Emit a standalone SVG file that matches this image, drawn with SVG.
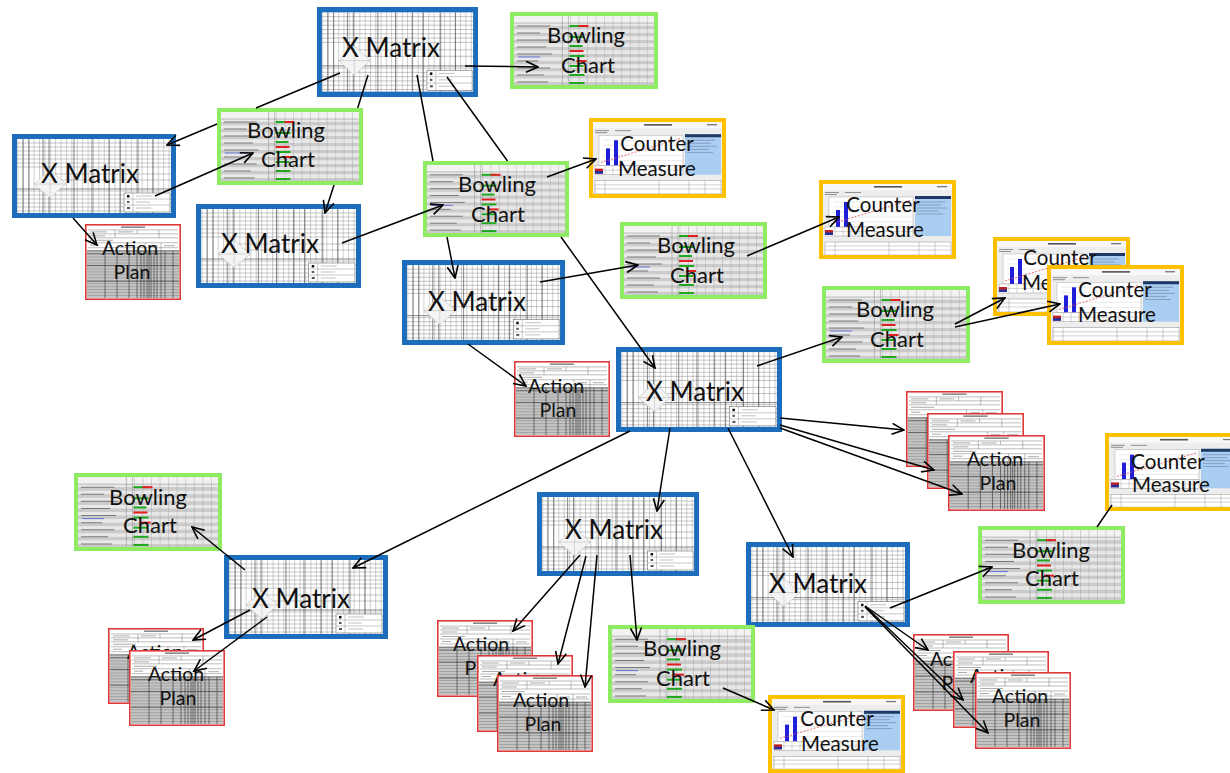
<svg xmlns="http://www.w3.org/2000/svg" width="1230" height="773" viewBox="0 0 1230 773">
<defs>
<style>
.t{font-family:Lato,"Liberation Sans",sans-serif;fill:#111;text-anchor:middle}
.xl{font-size:26px}
.sl{font-size:22px}
.cl{font-size:20.5px}
.al{font-size:19.5px}
.c{fill:none;stroke:#000;stroke-width:1.5}
.ca{marker-end:url(#arr)}
</style>
<marker id="arr" viewBox="0 0 14 14" refX="13" refY="7" markerWidth="14" markerHeight="14" markerUnits="userSpaceOnUse" orient="auto">
<path d="M1 1.5L13 7L1 12.5" fill="none" stroke="#000" stroke-width="1.6"/>
</marker>
<pattern id="pXv" width="5.4" height="10" patternUnits="userSpaceOnUse"><path d="M0.5 0V10" stroke="#9a9a9a" stroke-width="0.5"/></pattern>
<pattern id="pBrow" width="10" height="7" patternUnits="userSpaceOnUse"><rect width="10" height="3.5" fill="#CBCBCB"/><rect y="3.5" width="10" height="3.5" fill="#E8E8E8"/></pattern>
<pattern id="pBcol" width="8.5" height="10" patternUnits="userSpaceOnUse"><path d="M0.5 0V10" stroke="#a0a0a0" stroke-width="0.4"/></pattern>
<pattern id="pAP" width="10" height="3" patternUnits="userSpaceOnUse"><rect width="10" height="3" fill="#C4C4C4"/><path d="M0 0.3H10" stroke="#6e6e6e" stroke-width="0.5"/></pattern>

<symbol id="xmB" viewBox="0 0 164 84" preserveAspectRatio="none">
<rect width="164" height="84" fill="#fff"/>
<rect x="5" y="5" width="154" height="74" fill="url(#pXv)"/>
<path d="M5 9H159M5 13H159M5 17H159M5 21H159M5 25H159M5 29H159M5 33H159M38 40H159M38 46H159M5 57H159M5 61H159M5 65H159M5 69H159M5 73H159M5 77H159" fill="none" stroke="#8c8c8c" stroke-width="0.5"/>
<path d="M11 5V79M17 5V79M31 5V79M37 5V79M62 5V79M80 5V79M97 5V79M108 5V79M126 5V79M141 5V79M5 55H159" fill="none" stroke="#3c3c3c" stroke-width="0.6"/>
<path d="M38 36L54 50L38 64L22 50ZM22 50H54M38 36V64" fill="#f4f4f4" stroke="#b4b4b4" stroke-width="0.5"/>
<rect x="112" y="59" width="46" height="19" fill="#fff" stroke="#555" stroke-width="0.5"/>
<path d="M121 59V78M112 65H158M112 71H158" stroke="#777" stroke-width="0.4"/>
<rect x="115" y="61" width="2.5" height="2.5" fill="#111"/>
<rect x="115" y="67" width="2.5" height="2" fill="#555"/>
<rect x="115" y="73" width="3" height="2" fill="#555"/>
<path d="M124 62H140M124 68H138M124 74H139" stroke="#999" stroke-width="0.6"/>
<rect x="2.5" y="2.5" width="159" height="79" fill="none" stroke="#1C6DBB" stroke-width="5"/>
</symbol>

<symbol id="bcB" viewBox="0 0 147 77" preserveAspectRatio="none">
<rect width="147" height="77" fill="#E6E6E6"/>
<rect x="4" y="11" width="139" height="62" fill="url(#pBrow)"/>
<rect x="4" y="4" width="139" height="7" fill="#F2F2F2"/>
<rect x="52" y="4" width="91" height="69" fill="url(#pBcol)"/>
<path d="M4 11H143M52 4V73M58 4V73" stroke="#888" stroke-width="0.5"/>
<path d="M7 14H40M7 21H30M7 28H44M7 35H36M7 42H42M7 49H28M7 56H40M7 63H34M7 70H38" stroke="#7a7a7a" stroke-width="1"/>
<path d="M8 45H30" stroke="#4a5ad8" stroke-width="0.8"/>
<g fill="#1FA81F"><rect x="59" y="13" width="15" height="2"/><rect x="59" y="24" width="15" height="2"/><rect x="59" y="33" width="13" height="2"/><rect x="59" y="43" width="15" height="2"/><rect x="59" y="53" width="14" height="2"/><rect x="59" y="62" width="15" height="2"/><rect x="59" y="70" width="15" height="2"/></g>
<g fill="#E02020"><rect x="68" y="13" width="10" height="2"/><rect x="59" y="38" width="14" height="2"/><rect x="66" y="48" width="10" height="2"/></g>
<rect x="2" y="2" width="143" height="73" fill="none" stroke="#8FEB62" stroke-width="4"/>
</symbol>

<symbol id="cmB" viewBox="0 0 137 79" preserveAspectRatio="none">
<rect width="137" height="79" fill="#EDEDED"/>
<rect x="4" y="4" width="129" height="6" fill="#F8F8F8"/>
<rect x="55" y="6" width="28" height="1.6" fill="#555"/>
<rect x="118" y="6" width="10" height="1.3" fill="#777"/>
<path d="M6 12.5H20M26 12.5H42M6 14.5H18" stroke="#777" stroke-width="0.8"/>
<rect x="10" y="17" width="84" height="30" fill="#fff" stroke="#999" stroke-width="0.4"/>
<path d="M14 22H94M14 27H94M14 32H94M14 37H94M14 42H94" stroke="#ccc" stroke-width="0.4"/>
<rect x="17" y="30" width="4" height="17" fill="#1E1ED8"/>
<rect x="25" y="22" width="4" height="25" fill="#1E1ED8"/>
<path d="M12 44L92 20" stroke="#E05050" stroke-dasharray="2 1.5" stroke-width="0.8"/>
<rect x="96" y="16" width="36" height="40" fill="#A9CEF2"/>
<rect x="96" y="16" width="36" height="3" fill="#203864"/>
<path d="M98 22H126M98 25H122M98 28H128M98 31H120M98 34H124" stroke="#6a7fa0" stroke-width="0.6"/>
<rect x="6" y="47" width="88" height="9" fill="#fff" stroke="#888" stroke-width="0.4"/>
<path d="M16 47V56M24 47V56M32 47V56M40 47V56M48 47V56M56 47V56M64 47V56M72 47V56M80 47V56M88 47V56M6 51.5H94" stroke="#999" stroke-width="0.4"/>
<rect x="6" y="50" width="8" height="5" fill="#C02020"/>
<rect x="6" y="52.5" width="8" height="2.5" fill="#2030A0"/>
<rect x="6" y="62" width="126" height="13" fill="#fff" stroke="#777" stroke-width="0.4"/>
<path d="M6 66H132M6 70H132M16 62V75M70 62V75M100 62V75M116 62V75" stroke="#888" stroke-width="0.4"/>
<rect x="2" y="2" width="133" height="75" fill="none" stroke="#FFC000" stroke-width="4"/>
</symbol>

<symbol id="apB" viewBox="0 0 96 77" preserveAspectRatio="none">
<rect width="96" height="77" fill="#fff"/>
<rect x="36" y="2.5" width="24" height="1.4" fill="#777"/>
<path d="M3 6H93M3 10H93M3 14H93M3 19H93M3 24H93" stroke="#555" stroke-width="0.4"/>
<path d="M30 6V14M52 6V10M74 6V14M60 19V27M76 19V27" stroke="#555" stroke-width="0.4"/>
<path d="M5 8H22M33 8H48M5 12H20M5 16.5H28M5 21.5H14M63 22H73M79 22H90" stroke="#888" stroke-width="0.7"/>
<rect x="2" y="27" width="92" height="48" fill="url(#pAP)"/>
<path d="M2 27H94M2 30H94" stroke="#333" stroke-width="0.5"/>
<path d="M20 27V75M32 27V75M44 27V75M52 27V75M56 27V75M59 27V75M62 27V75M64 27V75M66 27V75M69 27V75M72 27V75M76 27V75M80 27V75M88 27V75" stroke="#222" stroke-width="0.55"/>
<path d="M2 42H94M2 58H94" stroke="#333" stroke-width="0.6"/>
<rect x="0.8" y="0.8" width="94.4" height="75.4" fill="none" stroke="#E0393A" stroke-width="1.6"/>
</symbol>
</defs>

<rect width="1230" height="773" fill="#fff"/>

<g id="xm1"><use href="#xmB" x="317" y="7" width="161" height="90"/><text class="t xl" x="391" y="57">X Matrix</text></g>
<g id="bc1"><use href="#bcB" x="510" y="12" width="148" height="77"/><text class="t sl" x="586" y="43">Bowling</text><text class="t sl" x="588" y="73">Chart</text></g>
<g id="xm2"><use href="#xmB" x="12" y="134" width="164" height="84"/><text class="t xl" x="90" y="183">X Matrix</text></g>
<g id="bc2"><use href="#bcB" x="217" y="108" width="146" height="77"/><text class="t sl" x="286" y="138">Bowling</text><text class="t sl" x="288" y="167">Chart</text></g>
<g id="ap1"><use href="#apB" x="85" y="224" width="96" height="76"/><text class="t al" x="130" y="255">Action</text><text class="t al" x="132" y="279">Plan</text></g>
<g id="xm3"><use href="#xmB" x="196" y="204" width="165" height="84"/><text class="t xl" x="270" y="253">X Matrix</text></g>
<g id="bc3"><use href="#bcB" x="423" y="161" width="146" height="76"/><text class="t sl" x="497" y="192">Bowling</text><text class="t sl" x="498" y="222">Chart</text></g>
<g id="cm1"><use href="#cmB" x="589" y="118" width="137" height="80"/><text class="t cl" x="657" y="151">Counter</text><text class="t cl" x="657" y="176">Measure</text></g>
<g id="xm4"><use href="#xmB" x="402" y="260" width="163" height="85"/><text class="t xl" x="477" y="311">X Matrix</text></g>
<g id="bc4"><use href="#bcB" x="620" y="222" width="147" height="77"/><text class="t sl" x="696" y="253">Bowling</text><text class="t sl" x="697" y="283">Chart</text></g>
<g id="cm2"><use href="#cmB" x="819" y="180" width="137" height="79"/><text class="t cl" x="883" y="212">Counter</text><text class="t cl" x="885" y="237">Measure</text></g>
<g id="bc5"><use href="#bcB" x="822" y="286" width="148" height="77"/><text class="t sl" x="895" y="317">Bowling</text><text class="t sl" x="897" y="347">Chart</text></g>
<g id="cm3"><use href="#cmB" x="993" y="237" width="137" height="79"/><text class="t cl" x="1060" y="265">Counter</text><text class="t cl" x="1061" y="290">Measure</text></g>
<g id="cm4"><use href="#cmB" x="1047" y="265" width="137" height="80"/><text class="t cl" x="1115" y="297">Counter</text><text class="t cl" x="1117" y="322">Measure</text></g>
<g id="ap2"><use href="#apB" x="514" y="361" width="96" height="76"/><text class="t al" x="556" y="393">Action</text><text class="t al" x="558" y="417">Plan</text></g>
<g id="xm5"><use href="#xmB" x="616" y="347" width="166" height="85"/><text class="t xl" x="695" y="401">X Matrix</text></g>
<g id="ap3"><use href="#apB" x="906" y="391" width="97" height="76"/><use href="#apB" x="927" y="413" width="97" height="76"/><use href="#apB" x="948" y="435" width="97" height="76"/><text class="t al" x="995" y="466">Action</text><text class="t al" x="998" y="490">Plan</text></g>
<g id="cm5"><use href="#cmB" x="1105" y="433" width="137" height="78"/><text class="t cl" x="1168" y="469">Counter</text><text class="t cl" x="1171" y="492">Measure</text></g>
<g id="bc6"><use href="#bcB" x="74" y="473" width="148" height="78"/><text class="t sl" x="148" y="505">Bowling</text><text class="t sl" x="150" y="533">Chart</text></g>
<g id="xm6"><use href="#xmB" x="224" y="555" width="164" height="84"/><text class="t xl" x="301" y="608">X Matrix</text></g>
<g id="xm7"><use href="#xmB" x="537" y="492" width="162" height="84"/><text class="t xl" x="614" y="539">X Matrix</text></g>
<g id="xm8"><use href="#xmB" x="746" y="542" width="164" height="85"/><text class="t xl" x="818" y="593">X Matrix</text></g>
<g id="bc8"><use href="#bcB" x="978" y="526" width="147" height="78"/><text class="t sl" x="1051" y="558">Bowling</text><text class="t sl" x="1052" y="586">Chart</text></g>
<g id="ap4"><use href="#apB" x="108" y="628" width="96" height="76"/><text class="t al" x="155" y="659">Action</text><use href="#apB" x="129" y="650" width="96" height="76"/><text class="t al" x="176" y="681">Action</text><text class="t al" x="178" y="705">Plan</text></g>
<g id="ap5"><use href="#apB" x="437" y="620" width="96" height="77"/><text class="t al" x="481" y="651">Action</text><text class="t al" x="483" y="675">Plan</text><use href="#apB" x="477" y="655" width="96" height="77"/><text class="t al" x="521" y="686">Action</text><use href="#apB" x="497" y="675" width="96" height="77"/><text class="t al" x="541" y="707">Action</text><text class="t al" x="543" y="731">Plan</text></g>
<g id="bc7"><use href="#bcB" x="608" y="625" width="147" height="78"/><text class="t sl" x="682" y="656">Bowling</text><text class="t sl" x="683" y="686">Chart</text></g>
<g id="cm6"><use href="#cmB" x="768" y="695" width="137" height="78"/><text class="t cl" x="837" y="726">Counter</text><text class="t cl" x="840" y="751">Measure</text></g>
<g id="ap6"><use href="#apB" x="913" y="634" width="96" height="77"/><text class="t al" x="958" y="666">Action</text><text class="t al" x="960" y="690">Plan</text><use href="#apB" x="953" y="651" width="96" height="77"/><text class="t al" x="998" y="683">Action</text><use href="#apB" x="975" y="672" width="96" height="77"/><text class="t al" x="1020" y="703">Action</text><text class="t al" x="1022" y="727">Plan</text></g>

<g id="connectors">
<path class="c ca" d="M465 66L538 67"/>
<path class="c ca" d="M340 73L256 108M217 124L167 145"/>
<path class="c ca" d="M368 75L357.7 108M334 185L325 213"/>
<path class="c ca" d="M417 75L433 161M447 237L455 278"/>
<path class="c ca" d="M447 77L507.5 161M561 237L655 368"/>
<path class="c ca" d="M155 196L253 153"/>
<path class="c ca" d="M73 218L97 245"/>
<path class="c ca" d="M342 243L443 205"/>
<path class="c ca" d="M547 177L596 159"/>
<path class="c ca" d="M540 282L638 265"/>
<path class="c ca" d="M468 344L526 386"/>
<path class="c ca" d="M747 256L839 217"/>
<path class="c ca" d="M757 366L842 337"/>
<path class="c ca" d="M955 324L1005 298"/>
<path class="c ca" d="M955 327L1060 304"/>
<path class="c ca" d="M780 418L904 430"/>
<path class="c ca" d="M780 425L934 470"/>
<path class="c ca" d="M780 428L962 494"/>
<path class="c ca" d="M630 431L353 568"/>
<path class="c ca" d="M670 428L657 511"/>
<path class="c ca" d="M728 428L793 557"/>
<path class="c ca" d="M245 570L192 527"/>
<path class="c ca" d="M250 610L193 640"/>
<path class="c ca" d="M267 617L194 671"/>
<path class="c ca" d="M580 555L513 631"/>
<path class="c ca" d="M586 556L558 664"/>
<path class="c ca" d="M597 555L585 687"/>
<path class="c ca" d="M630 555L637 640"/>
<path class="c ca" d="M723 688L774 710"/>
<path class="c ca" d="M890 608L992 567"/>
<path class="c ca" d="M865 606L928 650"/>
<path class="c ca" d="M865 606L963 700"/>
<path class="c ca" d="M865 607L988 733"/>
<path class="c" d="M1097 527L1112 505"/>
</g>
</svg>
